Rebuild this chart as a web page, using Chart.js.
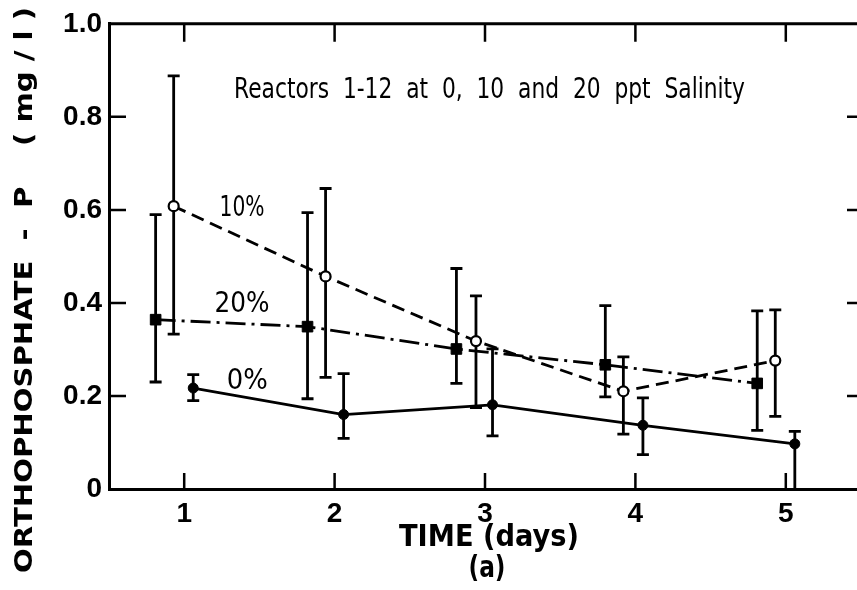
<!DOCTYPE html>
<html>
<head>
<meta charset="utf-8">
<script src="https://cdn.jsdelivr.net/npm/chart.js@4/dist/chart.umd.min.js"></script>
<style>
  html, body { margin: 0; padding: 0; background: #fff; overflow: hidden; }
  #wrap { position: absolute; left: 0; top: 0; width: 870px; height: 590px; }
</style>
</head>
<body>
<div id="wrap"><canvas id="c" width="870" height="590"></canvas></div>
<script>
// ---- data ----
const xTickValues = [1, 2, 3, 4, 5];
const xTickLabels = ['1', '2', '3', '4', '5'];
const yTickValues = [0, 0.2, 0.4, 0.6, 0.8, 1.0];
const yTickLabels = ['0', '0.2', '0.4', '0.6', '0.8', '1.0'];

const seriesNames = ['0%', '10%', '20%'];

const days0 = [1.06, 2.06, 3.05, 4.05, 5.06];
const p0    = [0.217, 0.160, 0.181, 0.137, 0.097];
const p0Lo  = [0.190, 0.109, 0.114, 0.074, 0.000];
const p0Hi  = [0.246, 0.248, 0.301, 0.196, 0.124];

const days10 = [0.93, 1.94, 2.94, 3.92, 4.93];
const p10    = [0.608, 0.457, 0.318, 0.210, 0.276];
const p10Lo  = [0.333, 0.240, 0.175, 0.118, 0.156];
const p10Hi  = [0.888, 0.646, 0.415, 0.284, 0.385];

const days20 = [0.81, 1.82, 2.81, 3.80, 4.81];
const p20    = [0.364, 0.349, 0.301, 0.267, 0.227];
const p20Lo  = [0.230, 0.194, 0.227, 0.198, 0.126];
const p20Hi  = [0.590, 0.594, 0.474, 0.394, 0.383];

const annotationText = 'Reactors  1-12  at  0,  10  and  20  ppt  Salinity';
const xTitle = 'TIME (days)';
const xSubTitle = '(a)';
const yTitle = 'ORTHOPHOSPHATE  -  P    ( mg / l )';

// ---- helpers ----
const pts = (xs, ys) => xs.map((x, i) => ({ x: x, y: ys[i] }));

function drawCondensed(ctx, text, cx, cy, font, targetW, rotate) {
  ctx.save();
  ctx.font = font;
  ctx.fillStyle = '#000';
  const w = ctx.measureText(text).width;
  const s = targetW / w;
  ctx.translate(cx, cy);
  if (rotate) ctx.rotate(-Math.PI / 2);
  ctx.scale(s, 1);
  ctx.textAlign = 'center';
  ctx.textBaseline = 'middle';
  ctx.fillText(text, 0, 0);
  ctx.restore();
}

const errorSets = [
  { xs: days0, lo: p0Lo, hi: p0Hi },
  { xs: days10, lo: p10Lo, hi: p10Hi },
  { xs: days20, lo: p20Lo, hi: p20Hi }
];

const errorBarPlugin = {
  id: 'errorBars',
  beforeDatasetsDraw(chart) {
    const { ctx, scales: { x, y } } = chart;
    ctx.save();
    ctx.strokeStyle = '#000';
    ctx.lineWidth = 2.8;
    ctx.lineCap = 'butt';
    errorSets.forEach(s => {
      s.xs.forEach((xv, i) => {
        const px = x.getPixelForValue(xv);
        const pl = y.getPixelForValue(s.lo[i]);
        const ph = y.getPixelForValue(s.hi[i]);
        ctx.beginPath();
        ctx.moveTo(px, pl); ctx.lineTo(px, ph);
        ctx.moveTo(px - 6, ph); ctx.lineTo(px + 6, ph);
        if (s.lo[i] > 0.005) { ctx.moveTo(px - 6, pl); ctx.lineTo(px + 6, pl); }
        ctx.stroke();
      });
    });
    ctx.restore();
  }
};

const frameAndTextPlugin = {
  id: 'frameText',
  afterDraw(chart) {
    const { ctx, chartArea: a, scales: { x, y } } = chart;
    ctx.save();
    ctx.strokeStyle = '#000';
    // top and right frame
    ctx.lineWidth = 3;
    ctx.beginPath();
    ctx.moveTo(a.left, a.top); ctx.lineTo(a.right, a.top); ctx.lineTo(a.right, a.bottom);
    ctx.stroke();
    // inward ticks
    ctx.lineWidth = 2.5;
    ctx.beginPath();
    xTickValues.forEach(v => {
      const px = x.getPixelForValue(v);
      ctx.moveTo(px, a.bottom); ctx.lineTo(px, a.bottom - 16);
      ctx.moveTo(px, a.top); ctx.lineTo(px, a.top + 18);
    });
    yTickValues.forEach(v => {
      if (v <= 0 || v >= 1) return;
      const py = y.getPixelForValue(v);
      ctx.moveTo(a.left, py); ctx.lineTo(a.left + 17, py);
      ctx.moveTo(a.right, py); ctx.lineTo(a.right - 14, py);
    });
    ctx.stroke();
    ctx.restore();

    // annotation and series labels (placed in data coordinates)
    drawCondensed(ctx, annotationText, x.getPixelForValue(3.03), y.getPixelForValue(0.857),
      '500 29px "DejaVu Sans"', 511, false);
    drawCondensed(ctx, seriesNames[1], x.getPixelForValue(1.385), y.getPixelForValue(0.604),
      '29px "DejaVu Sans"', 45, false);
    drawCondensed(ctx, seriesNames[2], x.getPixelForValue(1.385), y.getPixelForValue(0.396),
      '29px "DejaVu Sans"', 55, false);
    drawCondensed(ctx, seriesNames[0], x.getPixelForValue(1.42), y.getPixelForValue(0.232),
      '29px "DejaVu Sans"', 41, false);

    // axis titles
    const cx = (a.left + a.right) / 2;
    drawCondensed(ctx, xTitle, cx + 4, 538, 'bold 31px "DejaVu Sans"', 180, false);
    drawCondensed(ctx, xSubTitle, cx + 2, 569, 'bold 31px "DejaVu Sans"', 37, false);
    drawCondensed(ctx, yTitle, 25, 290, 'bold 25px "DejaVu Sans"', 566, true);
  }
};

new Chart(document.getElementById('c'), {
  type: 'scatter',
  data: {
    datasets: [
      {
        label: seriesNames[0],
        data: pts(days0, p0),
        showLine: true,
        borderColor: '#000',
        backgroundColor: '#000',
        borderWidth: 2.8,
        pointStyle: 'circle',
        pointRadius: 5,
        pointBorderWidth: 1,
        pointBackgroundColor: '#000',
        pointBorderColor: '#000'
      },
      {
        label: seriesNames[1],
        data: pts(days10, p10),
        showLine: true,
        borderColor: '#000',
        borderWidth: 2.8,
        borderDash: [13, 7],
        pointStyle: 'circle',
        pointRadius: 5,
        pointBorderWidth: 2.2,
        pointBackgroundColor: '#fff',
        pointBorderColor: '#000'
      },
      {
        label: seriesNames[2],
        data: pts(days20, p20),
        showLine: true,
        borderColor: '#000',
        borderWidth: 2.8,
        borderDash: [20, 6, 3, 6],
        pointStyle: 'rect',
        pointRadius: 7.5,
        pointBorderWidth: 1,
        pointBackgroundColor: '#000',
        pointBorderColor: '#000'
      }
    ]
  },
  options: {
    responsive: false,
    animation: false,
    devicePixelRatio: 1,
    layout: { padding: { top: 15, right: 9, left: 0, bottom: 0 } },
    plugins: { legend: { display: false }, tooltip: { enabled: false }, title: { display: false } },
    scales: {
      x: {
        type: 'linear',
        min: 0.5,
        max: 5.5,
        afterBuildTicks: s => { s.ticks = xTickValues.map(v => ({ value: v })); },
        afterFit: s => { s.height = 101; },
        grid: { display: false, drawTicks: false },
        border: { display: true, color: '#000', width: 3 },
        ticks: {
          padding: 8,
          color: '#000',
          font: { family: 'Liberation Sans', weight: 'bold', size: 28 },
          callback: (v) => { const i = xTickValues.indexOf(v); return i >= 0 ? xTickLabels[i] : ''; }
        }
      },
      y: {
        type: 'linear',
        min: 0,
        max: 1.0,
        afterBuildTicks: s => { s.ticks = yTickValues.map(v => ({ value: v })); },
        afterFit: s => { s.width = 109; },
        grid: { display: false, drawTicks: false },
        border: { display: true, color: '#000', width: 3 },
        ticks: {
          padding: 7,
          color: '#000',
          font: { family: 'Liberation Sans', weight: 'bold', size: 28 },
          callback: (v) => {
            const i = yTickValues.findIndex(t => Math.abs(t - v) < 1e-9);
            return i >= 0 ? yTickLabels[i] : '';
          }
        }
      }
    }
  },
  plugins: [errorBarPlugin, frameAndTextPlugin]
});
</script>
</body>
</html>
